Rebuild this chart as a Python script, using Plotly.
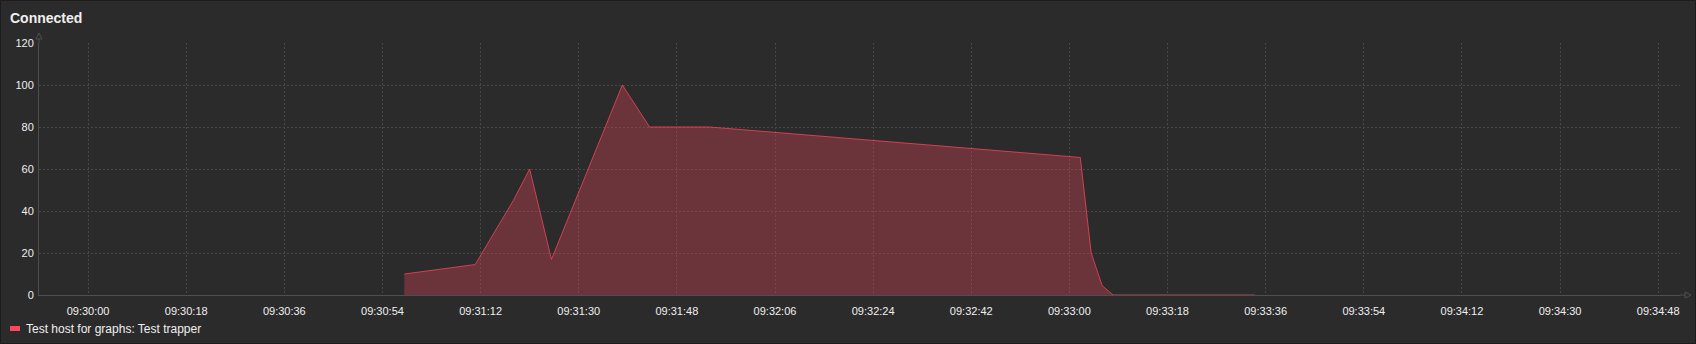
import plotly.graph_objects as go
import pandas as pd

# ---- data ----
DAY = "2024-01-01 "
times = ["09:30:58", "09:31:11", "09:31:18", "09:31:21", "09:31:25", "09:31:38",
         "09:31:43", "09:31:54", "09:33:02", "09:33:04", "09:33:06", "09:33:08", "09:33:34"]
values = [10, 14.5, 45, 60, 17, 100, 80, 80, 65.5, 20, 4.5, 0, 0]
series_name = "Test host for graphs: Test trapper"
chart_title = "Connected"
x_ticks = ["09:30:00", "09:30:18", "09:30:36", "09:30:54", "09:31:12", "09:31:30",
           "09:31:48", "09:32:06", "09:32:24", "09:32:42", "09:33:00", "09:33:18",
           "09:33:36", "09:33:54", "09:34:12", "09:34:30", "09:34:48"]
y_ticks = [0, 20, 40, 60, 80, 100, 120]
x_range = ["09:29:51", "09:34:52"]

BG = "#2b2b2b"
GRID = "#474747"
AXIS = "#4f4f4f"
TXT = "#f0f0f0"
SERIES = "#ff465c"
FONT = "Liberation Sans, Arial, sans-serif"

W, H = 1696, 344
ML, MR, MT, MB = 39, 16, 43, 49
PW, PH = W - ML - MR, H - MT - MB

xs = pd.to_datetime([DAY + t for t in times])

fig = go.Figure()
fig.add_trace(go.Scatter(
    x=xs, y=values, mode="lines", name=series_name,
    line=dict(color="rgba(255,70,92,0.75)", width=1),
    fill="tozeroy", fillcolor="rgba(255,70,92,0.3)",
    cliponaxis=False, showlegend=False, hoverinfo="x+y",
))

shapes = []
# widget border
shapes.append(dict(type="rect", xref="paper", yref="paper",
                   x0=-(ML - 0.5) / PW, x1=1 + (MR - 0.5) / PW,
                   y0=-(MB - 0.5) / PH, y1=1 + (MT - 0.5) / PH,
                   line=dict(color="#1c1c1c", width=1), layer="above"))
# y axis extension + arrow
shapes.append(dict(type="line", xref="paper", yref="paper", x0=0, x1=0,
                   ysizemode="pixel", yanchor=1, y0=0, y1=4,
                   line=dict(color=AXIS, width=1)))
shapes.append(dict(type="path", xref="paper", yref="paper",
                   xsizemode="pixel", xanchor=0, ysizemode="pixel", yanchor=1,
                   path="M -3,4 L 0,10 L 3,4 Z", line=dict(color=AXIS, width=1)))
# x axis extension + arrow
shapes.append(dict(type="line", xref="paper", yref="paper", y0=0, y1=0,
                   xsizemode="pixel", xanchor=1, x0=0, x1=5,
                   line=dict(color=AXIS, width=1)))
shapes.append(dict(type="path", xref="paper", yref="paper",
                   xsizemode="pixel", xanchor=1, ysizemode="pixel", yanchor=0,
                   path="M 5,3 L 11,0 L 5,-3 Z", line=dict(color=AXIS, width=1)))
# legend marker
shapes.append(dict(type="rect", xref="paper", yref="paper",
                   xsizemode="pixel", xanchor=0, ysizemode="pixel", yanchor=0,
                   x0=10 - ML, x1=20 - ML, y0=-(326 - 295), y1=-(331 - 295),
                   fillcolor=SERIES, line=dict(width=0)))

annotations = [dict(
    text=series_name, xref="paper", yref="paper",
    x=(24 - ML) / PW, y=-(329 - 295) / PH, xanchor="left", yanchor="middle",
    showarrow=False, font=dict(family=FONT, size=12, color=TXT),
)]

fig.update_layout(
    width=W, height=H,
    margin=dict(l=ML, r=MR, t=MT, b=MB, pad=0),
    paper_bgcolor=BG, plot_bgcolor=BG,
    showlegend=False,
    title=dict(text="<b>" + chart_title + "</b>", x=10 / W, xanchor="left",
               y=1 - 18 / H, yanchor="middle",
               font=dict(family=FONT, size=14, color=TXT)),
    font=dict(family=FONT, size=11, color=TXT),
    shapes=shapes, annotations=annotations,
    xaxis=dict(
        type="date", range=[DAY + x_range[0], DAY + x_range[1]],
        tickvals=[DAY + t for t in x_ticks], ticktext=x_ticks,
        showgrid=True, gridcolor=GRID, griddash="2px,2px", gridwidth=1,
        showline=True, linecolor=AXIS, linewidth=1, zeroline=False,
        ticks="outside", ticklen=6, tickcolor=BG,
        tickfont=dict(family=FONT, size=11, color=TXT),
    ),
    yaxis=dict(
        range=[0, 120], tickvals=y_ticks,
        showgrid=True, gridcolor=GRID, griddash="2px,2px", gridwidth=1,
        showline=True, linecolor=AXIS, linewidth=1, zeroline=False,
        ticks="outside", ticklen=2, tickcolor=BG,
        tickfont=dict(family=FONT, size=11, color=TXT),
    ),
)

fig.write_html("out.html")
